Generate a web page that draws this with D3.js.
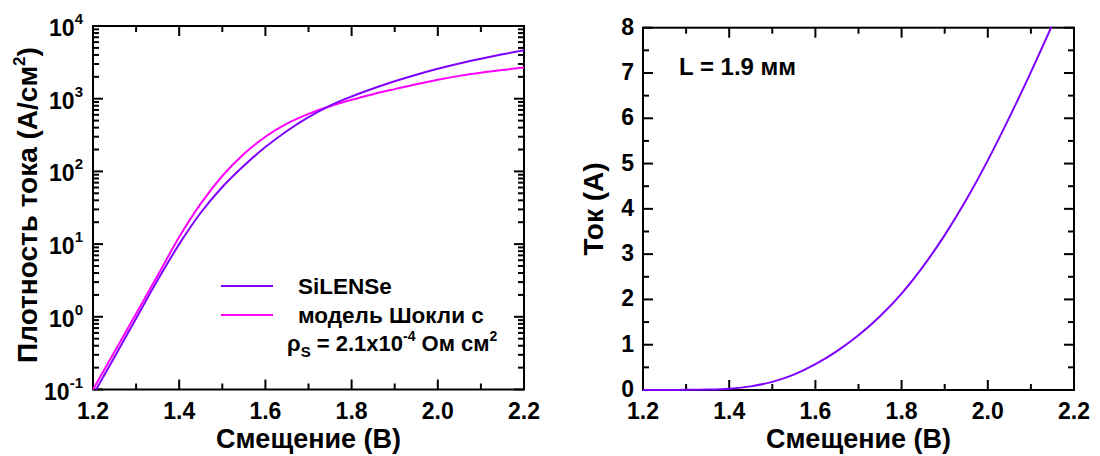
<!DOCTYPE html>
<html>
<head>
<meta charset="utf-8">
<script src="https://cdn.jsdelivr.net/npm/d3@7"></script>
<style>
  html, body { margin: 0; padding: 0; background: #fff; }
  svg { display: block; font-family: "Liberation Sans", Arial, sans-serif; font-weight: bold; }
</style>
</head>
<body>
<svg id="chart" width="1100" height="456"></svg>
<script>
// ---------- data ----------
const xTicks = [1.2, 1.4, 1.6, 1.8, 2.0, 2.2];
const xMinorTicks = [1.3, 1.5, 1.7, 1.9, 2.1];
const logDecades = [-1, 0, 1, 2, 3, 4];
const currentTicks = [0, 1, 2, 3, 4, 5, 6, 7, 8];

// SiLENSe simulated current density (A/cm^2)
const silenseV = [1.207, 1.25, 1.3, 1.35, 1.4, 1.45, 1.5, 1.55, 1.6, 1.65, 1.7, 1.75, 1.8, 1.85, 1.9, 1.95, 2.0, 2.05, 2.1, 2.15, 2.2];
const silenseJ = [0.1, 0.28, 0.95, 3.2, 10, 27, 61, 120, 216, 359, 556, 804, 1072, 1380, 1738, 2138, 2582, 3055, 3548, 4074, 4624];

// Shockley model with series resistance
const shockleyV = [1.2, 1.25, 1.3, 1.35, 1.4, 1.45, 1.5, 1.55, 1.6, 1.65, 1.7, 1.75, 1.8, 1.85, 1.9, 1.95, 2.0, 2.05, 2.1, 2.15, 2.2];
const shockleyJ = [0.1, 0.33, 1.1, 3.7, 12.5, 36, 86.5, 173, 300, 454, 619, 789, 966, 1153, 1355, 1585, 1828, 2061, 2280, 2483, 2679];

// Current vs bias (L = 1.9 mm)
const currentV = [1.2, 1.25, 1.3, 1.35, 1.4, 1.45, 1.5, 1.55, 1.6, 1.65, 1.7, 1.75, 1.8, 1.85, 1.9, 1.95, 2.0, 2.05, 2.1, 2.15];
const currentI = [0, 0.001, 0.003, 0.01, 0.03, 0.08, 0.18, 0.34, 0.57, 0.86, 1.21, 1.63, 2.13, 2.73, 3.42, 4.2, 5.07, 6.02, 7.02, 8.07];

const colSilense = "#8000ff";
const colShockley = "#ff00ff";

// ---------- drawing ----------
const svg = d3.select("#chart");
const FS_TICK = 23;

function frame(g, x, y) {
  const [x0, x1] = x.range();
  const [y0, y1] = y.range();
  g.append("rect").attr("x", x0).attr("y", y1).attr("width", x1 - x0).attr("height", y0 - y1)
    .attr("fill", "none").attr("stroke", "#000").attr("stroke-width", 2);
}

function xAxisTicks(g, x, y) {
  const [y0, y1] = y.range();
  const all = xTicks.map(v => ({v, len: 10})).concat(xMinorTicks.map(v => ({v, len: 6})));
  all.forEach(t => {
    g.append("line").attr("x1", x(t.v)).attr("x2", x(t.v)).attr("y1", y0).attr("y2", y0 - t.len)
      .attr("stroke", "#000").attr("stroke-width", 2);
    g.append("line").attr("x1", x(t.v)).attr("x2", x(t.v)).attr("y1", y1).attr("y2", y1 + t.len)
      .attr("stroke", "#000").attr("stroke-width", 2);
  });
  g.selectAll(null).data(xTicks).enter().append("text")
    .attr("x", d => x(d)).attr("y", y0 + 29)
    .attr("text-anchor", "middle").attr("font-size", FS_TICK)
    .text(d => d.toFixed(1));
  g.append("text").attr("x", (x.range()[0] + x.range()[1]) / 2).attr("y", 448)
    .attr("text-anchor", "middle").attr("font-size", 27).text("Смещение (В)");
}

function yTickLine(g, x, yy, len) {
  const [x0, x1] = x.range();
  g.append("line").attr("x1", x0).attr("x2", x0 + len).attr("y1", yy).attr("y2", yy)
    .attr("stroke", "#000").attr("stroke-width", 2);
  g.append("line").attr("x1", x1).attr("x2", x1 - len).attr("y1", yy).attr("y2", yy)
    .attr("stroke", "#000").attr("stroke-width", 2);
}

// ===== Left panel =====
const xL = d3.scaleLinear().domain([1.2, 2.2]).range([93, 524]);
const yL = d3.scaleLog().domain([0.1, 1e4]).range([389.5, 26]);
const gL = svg.append("g");

svg.append("clipPath").attr("id", "clipL").append("rect")
  .attr("x", 92).attr("y", 25).attr("width", 433).attr("height", 365.5);

frame(gL, xL, yL);
xAxisTicks(gL, xL, yL);

// log ticks
yL.ticks().forEach(v => {
  const isMajor = Math.abs(Math.log10(v) - Math.round(Math.log10(v))) < 1e-9;
  yTickLine(gL, xL, yL(v), isMajor ? 10 : 6);
});
logDecades.forEach(e => {
  const t = gL.append("text").attr("x", 83).attr("y", yL(Math.pow(10, e)) + 10)
    .attr("text-anchor", "end").attr("font-size", FS_TICK);
  t.append("tspan").text("10");
  t.append("tspan").attr("dy", -12).attr("font-size", 15).text(e);
});

const lineL = d3.line().x(d => xL(d[0])).y(d => yL(d[1])).curve(d3.curveMonotoneX);
gL.append("path").datum(d3.zip(shockleyV, shockleyJ)).attr("d", lineL)
  .attr("fill", "none").attr("stroke", colShockley).attr("stroke-width", 2).attr("clip-path", "url(#clipL)");
gL.append("path").datum(d3.zip(silenseV, silenseJ)).attr("d", lineL)
  .attr("fill", "none").attr("stroke", colSilense).attr("stroke-width", 2).attr("clip-path", "url(#clipL)");

// y title
const yTitleL = gL.append("text").attr("transform", "translate(37,205) rotate(-90)")
  .attr("text-anchor", "middle").attr("font-size", 28);
yTitleL.append("tspan").text("Плотность тока (А/см");
yTitleL.append("tspan").attr("dy", -12).attr("font-size", 17).text("2");
yTitleL.append("tspan").attr("dy", 12).text(")");

// legend
const legendItems = [
  {label: "SiLENSe", color: colSilense, y: 286},
  {label: "модель Шокли с", color: colShockley, y: 315}
];
legendItems.forEach(it => {
  gL.append("line").attr("x1", 221).attr("x2", 273).attr("y1", it.y).attr("y2", it.y)
    .attr("stroke", it.color).attr("stroke-width", 2);
  gL.append("text").attr("x", 298).attr("y", it.y + 8).attr("font-size", 22.5).text(it.label);
});
const rho = gL.append("text").attr("x", 287).attr("y", 351).attr("font-size", 22);
rho.append("tspan").text("ρ");
rho.append("tspan").attr("dy", 6).attr("font-size", 15).text("S");
rho.append("tspan").attr("dy", -6).text(" = 2.1x10");
rho.append("tspan").attr("dy", -10).attr("font-size", 14).text("-4");
rho.append("tspan").attr("dy", 10).text(" Ом см");
rho.append("tspan").attr("dy", -10).attr("font-size", 14).text("2");

// ===== Right panel =====
const xR = d3.scaleLinear().domain([1.2, 2.2]).range([643, 1074]);
const yR = d3.scaleLinear().domain([0, 8]).range([390, 27.7]);
const gR = svg.append("g");

svg.append("clipPath").attr("id", "clipR").append("rect")
  .attr("x", 642).attr("y", 26.7).attr("width", 433).attr("height", 364.3);

frame(gR, xR, yR);
xAxisTicks(gR, xR, yR);

currentTicks.forEach(v => yTickLine(gR, xR, yR(v), 10));
currentTicks.slice(0, -1).forEach(v => yTickLine(gR, xR, yR(v + 0.5), 6));
gR.selectAll(null).data(currentTicks).enter().append("text")
  .attr("x", 634).attr("y", d => yR(d) + 7)
  .attr("text-anchor", "end").attr("font-size", FS_TICK).text(d => d);

const lineR = d3.line().x(d => xR(d[0])).y(d => yR(d[1])).curve(d3.curveMonotoneX);
gR.append("path").datum(d3.zip(currentV, currentI)).attr("d", lineR)
  .attr("fill", "none").attr("stroke", colSilense).attr("stroke-width", 2).attr("clip-path", "url(#clipR)");

gR.append("text").attr("transform", "translate(603,209) rotate(-90)")
  .attr("text-anchor", "middle").attr("font-size", 28).text("Ток (А)");

gR.append("text").attr("x", 679).attr("y", 75).attr("font-size", 24).text("L = 1.9 мм");
</script>
</body>
</html>
